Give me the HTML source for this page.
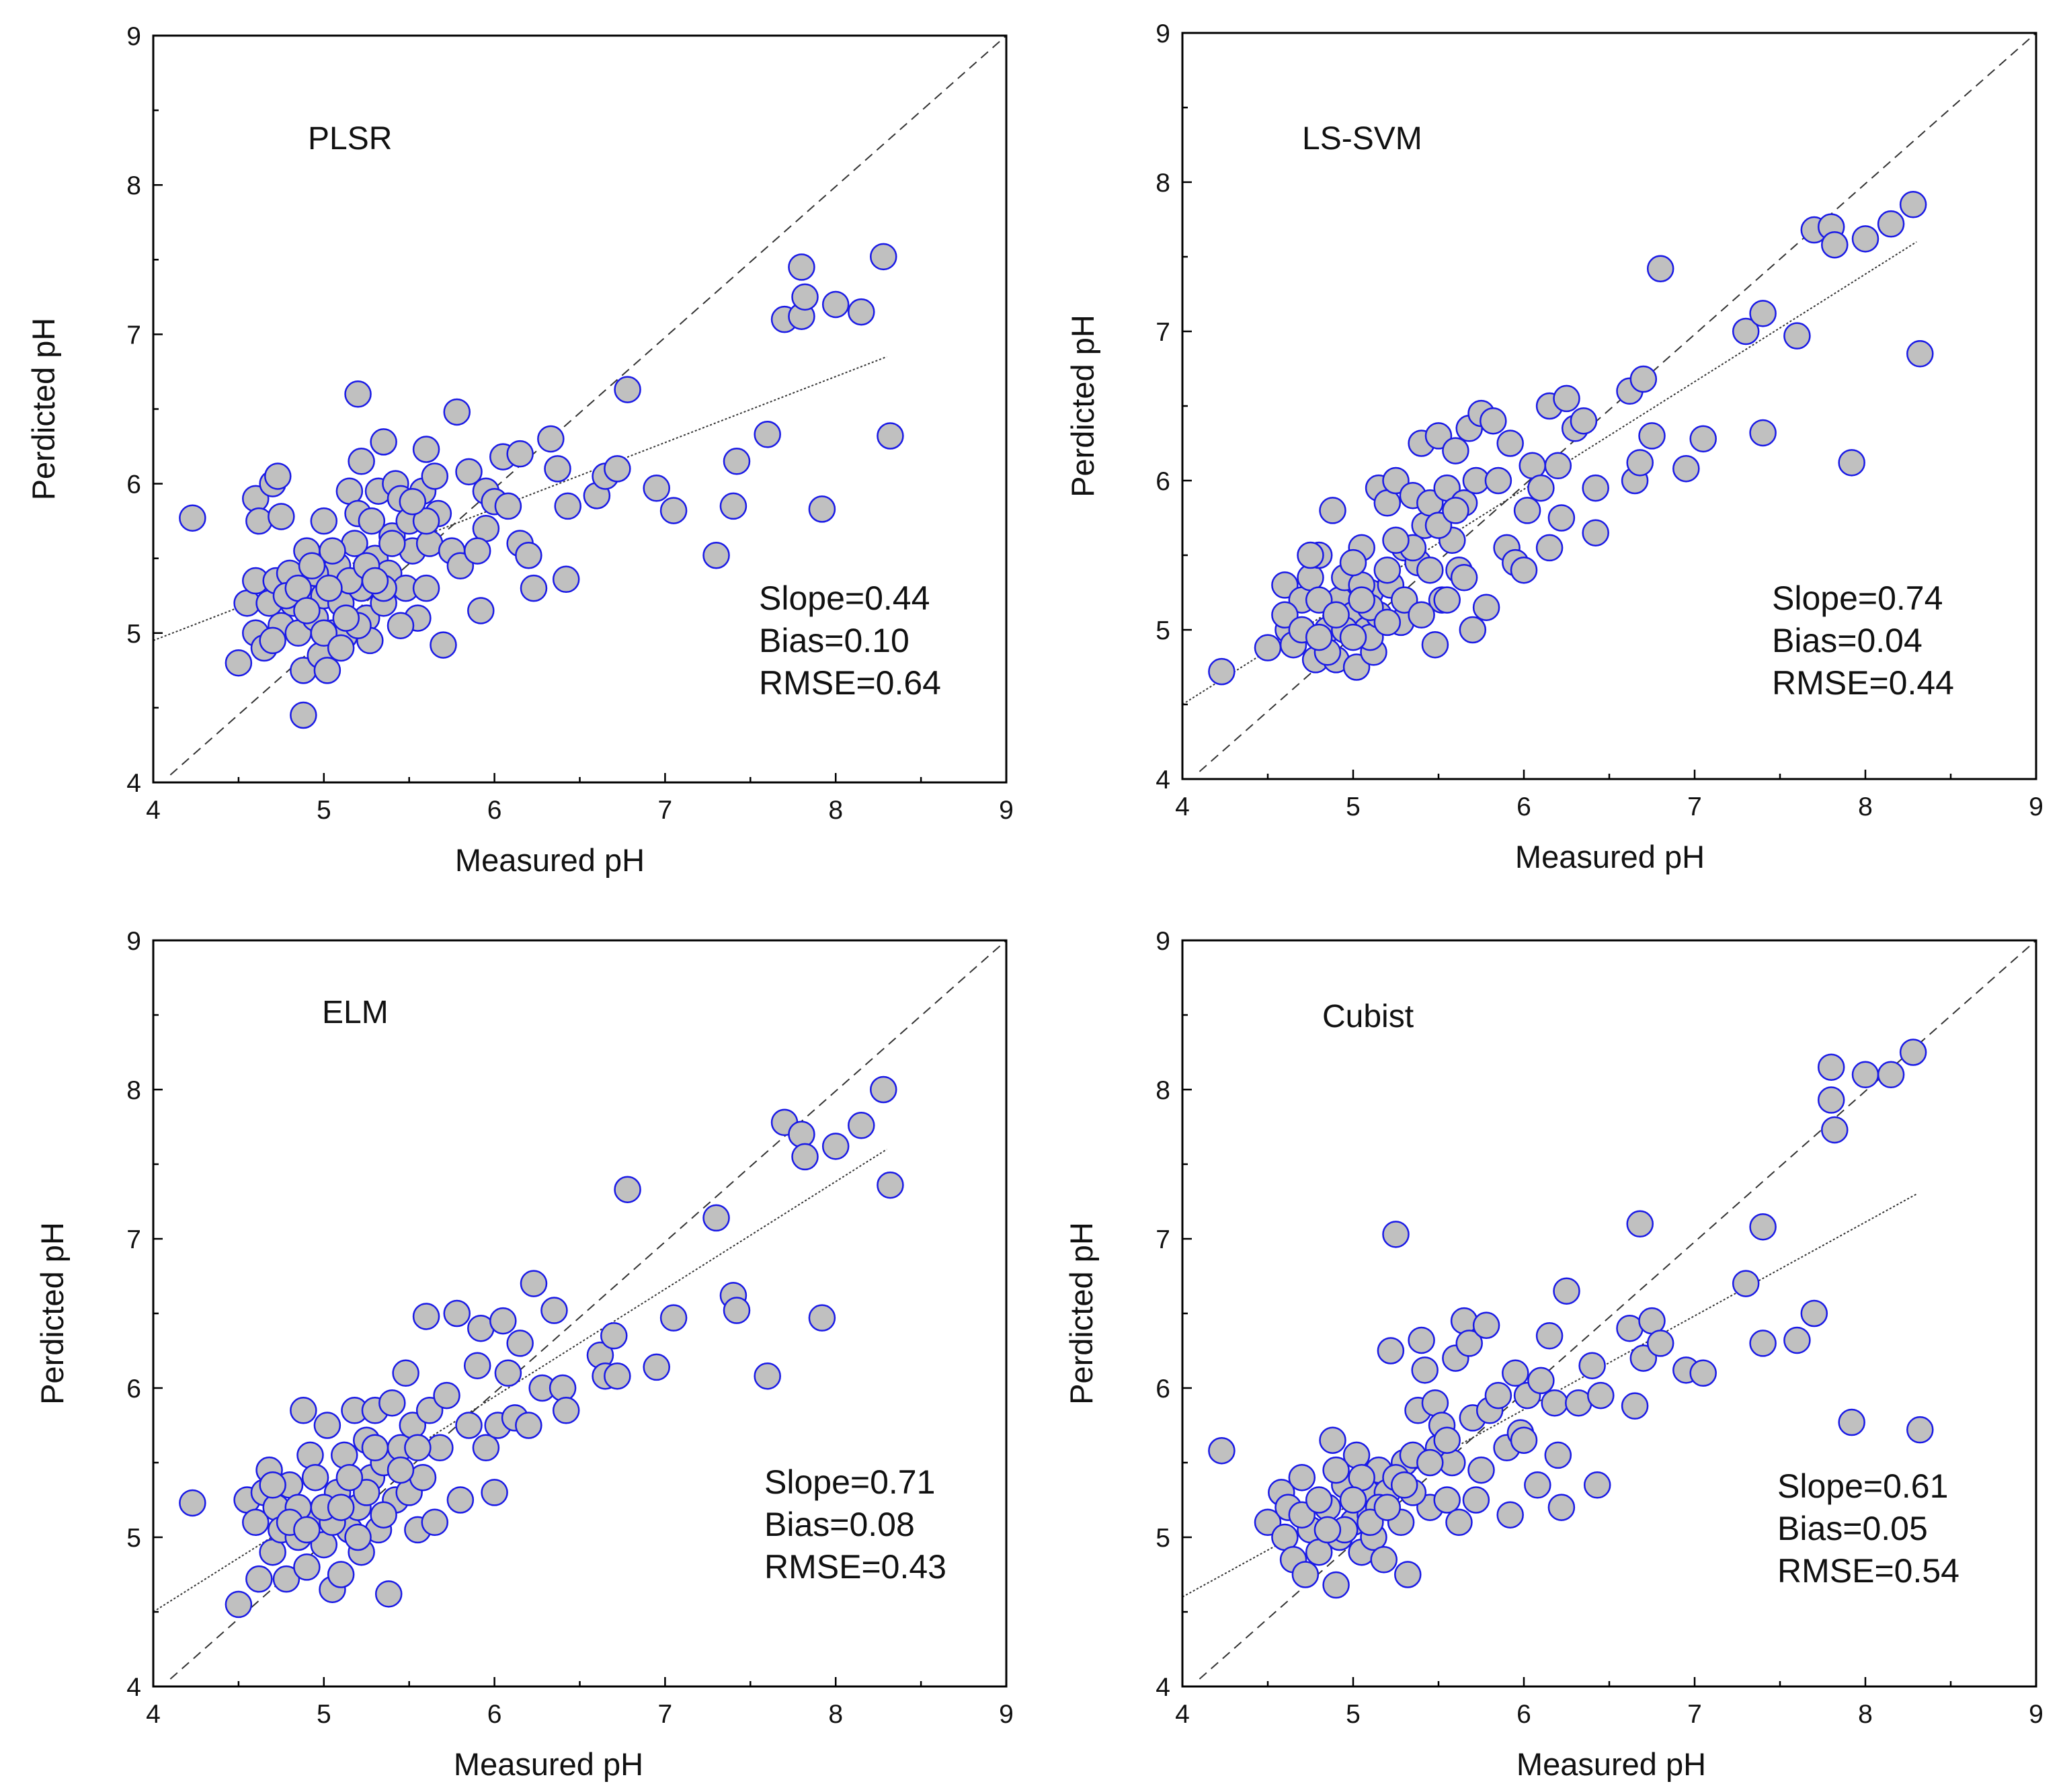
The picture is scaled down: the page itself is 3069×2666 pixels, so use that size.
<!DOCTYPE html>
<html><head><meta charset="utf-8"><style>
body{margin:0;background:#fff}
svg{display:block;font-family:"Liberation Sans",sans-serif}
</style></head><body>
<svg id="fig" width="3069" height="2666" viewBox="0 0 3069 2666"></svg>
<script>
const plsrX=[4.23,4.5,4.6,4.62,4.7,4.73,4.75,4.88,5.0,5.2,5.22,5.35,5.6,5.78,5.7,5.92,5.95,6.05,6.15,6.15,6.2,6.23,6.33,6.37,6.42,6.43,6.6,6.65,6.72,6.78,6.95,7.05,7.3,7.4,7.42,7.6,7.7,7.8,7.8,7.82,7.92,8.0,8.15,8.28,8.32,4.55,4.6,4.6,4.65,4.68,4.72,4.75,4.8,4.82,4.85,4.88,4.9,4.92,4.95,4.98,5.0,5.02,5.05,5.08,5.1,5.12,5.15,5.18,5.2,5.22,5.25,5.27,5.3,5.32,5.35,5.38,5.4,5.42,5.45,5.48,5.5,5.52,5.55,5.58,5.6,5.62,5.65,5.67,5.75,5.8,5.85,5.9,5.95,6.0,6.08,5.4,5.28,5.05,4.95,5.15,5.45,5.35,4.78,4.7,5.6,5.52,5.25,4.85,4.9,5.0,5.1,5.2,5.3,5.13,5.03,4.93];
const plsrY=[5.77,4.8,5.9,5.75,6.0,6.05,5.78,4.45,5.75,6.6,6.15,6.28,6.23,6.48,4.92,5.15,5.7,6.18,6.2,5.6,5.52,5.3,6.3,6.1,5.36,5.85,5.92,6.05,6.1,6.63,5.97,5.82,5.52,5.85,6.15,6.33,7.1,7.45,7.12,7.25,5.83,7.2,7.15,7.52,6.32,5.2,5.35,5.0,4.9,5.2,5.35,5.05,5.4,5.2,5.0,4.75,5.55,5.3,5.1,4.85,5.25,4.75,5.0,5.45,5.2,4.98,5.95,5.6,5.8,5.3,5.1,4.95,5.5,5.95,5.2,5.4,5.65,6.0,5.9,5.3,5.75,5.55,5.1,5.95,5.3,5.6,6.05,5.8,5.55,5.45,6.08,5.55,5.95,5.88,5.85,5.6,5.75,5.55,5.4,5.35,5.05,5.3,5.25,4.95,5.75,5.88,5.45,5.3,5.15,5.0,4.9,5.05,5.35,5.1,5.3,5.45];
const svmX=[4.23,4.5,4.6,4.62,4.65,4.7,4.75,4.78,4.8,4.85,4.88,4.9,4.92,4.95,5.0,5.02,5.05,5.08,5.1,5.12,5.15,5.2,5.22,5.25,5.28,5.3,5.35,5.38,5.4,5.42,5.45,5.48,5.5,5.52,5.55,5.58,5.6,5.62,5.65,5.68,5.7,5.72,5.75,5.78,5.82,5.85,5.9,5.92,5.95,6.0,6.02,6.05,6.1,6.15,6.15,6.2,6.22,6.25,6.3,6.35,6.42,6.42,6.62,6.65,6.68,6.7,6.75,6.8,6.95,7.05,7.3,7.4,7.4,7.6,7.7,7.8,7.82,7.92,8.0,8.15,8.28,8.32,4.6,4.7,4.8,4.85,4.95,5.05,5.1,5.15,5.2,5.3,5.35,5.45,5.5,5.55,5.65,5.6,5.4,5.0,4.75,5.25,4.9,5.0,5.1,5.2,4.8,5.05];
const svmY=[4.72,4.88,5.3,5.0,4.9,5.2,5.35,4.8,5.5,5.0,5.8,4.8,5.2,5.35,5.1,4.75,5.55,5.0,5.25,4.85,5.95,5.85,5.3,6.0,5.05,5.55,5.9,5.45,6.25,5.7,5.85,4.9,6.3,5.2,5.95,5.6,6.2,5.4,5.85,6.35,5.0,6.0,6.45,5.15,6.4,6.0,5.55,6.25,5.45,5.4,5.8,6.1,5.95,6.5,5.55,6.1,5.75,6.55,6.35,6.4,5.65,5.95,6.6,6.0,6.12,6.68,6.3,7.42,6.08,6.28,7.0,7.12,6.32,6.97,7.68,7.7,7.58,6.12,7.62,7.72,7.85,6.85,5.1,5.0,5.2,4.85,5.0,5.3,4.95,5.1,5.4,5.2,5.55,5.4,5.7,5.2,5.35,5.8,5.1,5.45,5.5,5.6,5.1,4.95,5.15,5.05,4.95,5.2];
const elmX=[4.23,4.5,4.55,4.6,4.62,4.65,4.68,4.7,4.72,4.75,4.78,4.8,4.85,4.88,4.9,4.92,4.95,5.0,5.02,5.05,5.08,5.1,5.12,5.15,5.18,5.2,5.22,5.25,5.28,5.3,5.32,5.35,5.38,5.4,5.42,5.45,5.48,5.5,5.52,5.55,5.58,5.6,5.62,5.65,5.68,5.72,5.78,5.8,5.85,5.9,5.92,5.95,6.0,6.02,6.05,6.08,6.12,6.15,6.2,6.23,6.28,6.35,6.4,6.42,6.62,6.65,6.7,6.72,6.78,6.95,7.05,7.3,7.4,7.42,7.6,7.7,7.8,7.82,7.92,8.0,8.15,8.28,8.32,4.7,4.85,4.95,5.05,5.25,5.35,5.45,5.55,5.15,5.0,4.8,4.9,5.1,5.2,5.3];
const elmY=[5.23,4.55,5.25,5.1,4.72,5.3,5.45,4.9,5.2,5.05,4.72,5.35,5.0,5.85,4.8,5.55,5.15,4.95,5.75,4.65,5.3,4.75,5.55,5.05,5.85,5.2,4.9,5.65,5.4,5.85,5.05,5.5,4.62,5.9,5.25,5.6,6.1,5.3,5.75,5.05,5.4,6.48,5.85,5.1,5.6,5.95,6.5,5.25,5.75,6.15,6.4,5.6,5.3,5.75,6.45,6.1,5.8,6.3,5.75,6.7,6.0,6.52,6.0,5.85,6.22,6.08,6.35,6.08,7.33,6.14,6.47,7.14,6.62,6.52,6.08,7.78,7.7,7.55,6.47,7.62,7.76,8.0,7.36,5.35,5.2,5.4,5.1,5.3,5.15,5.45,5.6,5.4,5.2,5.1,5.05,5.2,5.0,5.6];
const cubX=[4.23,4.5,4.58,4.6,4.62,4.65,4.7,4.72,4.75,4.8,4.85,4.88,4.9,4.92,4.95,5.0,5.02,5.05,5.08,5.1,5.12,5.15,5.18,5.2,5.22,5.25,5.28,5.3,5.32,5.35,5.38,5.4,5.42,5.45,5.48,5.5,5.52,5.55,5.58,5.6,5.62,5.65,5.68,5.7,5.72,5.75,5.78,5.8,5.85,5.9,5.92,5.95,5.98,6.0,6.02,6.08,6.1,6.15,6.18,6.2,6.22,6.25,6.32,6.4,6.43,6.45,6.62,6.65,6.68,6.7,6.75,6.8,6.95,7.05,7.3,7.4,7.4,7.6,7.7,7.8,7.8,7.82,7.92,8.0,8.15,8.28,8.32,4.7,4.8,4.95,5.05,5.15,5.25,5.35,5.45,5.55,4.9,4.85,5.0,5.1,5.2,5.3];
const cubY=[5.58,5.1,5.3,5.0,5.2,4.85,5.4,4.75,5.05,4.9,5.2,5.65,4.68,5.0,5.35,5.1,5.55,4.9,5.3,5.15,5.0,5.45,4.85,5.3,6.25,7.03,5.1,5.5,4.75,5.55,5.85,6.32,6.12,5.2,5.9,5.6,5.75,5.25,5.5,6.2,5.1,6.45,6.3,5.8,5.25,5.45,6.42,5.85,5.95,5.6,5.15,6.1,5.7,5.65,5.95,5.35,6.05,6.35,5.9,5.55,5.2,6.65,5.9,6.15,5.35,5.95,6.4,5.88,7.1,6.2,6.45,6.3,6.12,6.1,6.7,7.08,6.3,6.32,6.5,8.15,7.93,7.73,5.77,8.1,8.1,8.25,5.72,5.15,5.25,5.05,5.4,5.2,5.4,5.3,5.5,5.65,5.45,5.05,5.25,5.1,5.2,5.35];
const axisTicks=[4,5,6,7,8,9];
const fitLines=[[4.95,6.85],[4.5,7.6],[4.5,7.6],[4.6,7.3]];
const panelNames=["PLSR","LS-SVM","ELM","Cubist"];
const slopes=["0.44","0.74","0.71","0.61"],biases=["0.10","0.04","0.08","0.05"],rmses=["0.64","0.44","0.43","0.54"];
const NS="http://www.w3.org/2000/svg";
const svg=document.getElementById('fig');
function mk(tag,attrs,parent){const e=document.createElementNS(NS,tag);for(const k in attrs)e.setAttribute(k,attrs[k]);(parent||svg).appendChild(e);return e;}
const panels=[
 {x0:228,x1:1497,y0:53,y1:1164,xs:plsrX,ys:plsrY,yl:65,xc:818,lab:[458,222],st:[1129,890]},
 {x0:1759,x1:3029,y0:49,y1:1159,xs:svmX,ys:svmY,yl:1611,xc:2395,lab:[1937,222],st:[2636,890]},
 {x0:228,x1:1497,y0:1399,y1:2509,xs:elmX,ys:elmY,yl:78,xc:816,lab:[479,1522],st:[1137,2205]},
 {x0:1759,x1:3029,y0:1399,y1:2509,xs:cubX,ys:cubY,yl:1609,xc:2397,lab:[1967,1528],st:[2644,2211]}];
panels.forEach((p,i)=>{
 const g=mk('g',{});
 
 
 const sx=v=>p.x0+(v-4)/5*(p.x1-p.x0), sy=v=>p.y1-(v-4)/5*(p.y1-p.y0);
 for(let v=4;v<=9;v+=0.5){
  const L=Number.isInteger(v)?14:8;
  mk('line',{x1:sx(v),x2:sx(v),y1:p.y1,y2:p.y1-L,stroke:'#000','stroke-width':2.5},g);
  mk('line',{x1:p.x0,x2:p.x0+L,y1:sy(v),y2:sy(v),stroke:'#000','stroke-width':2.5},g);
 }
 axisTicks.forEach(v=>{
  const t=mk('text',{x:sx(v),y:p.y1+54,'text-anchor':'middle','font-size':39,fill:'#111'},g);t.textContent=v;
  
  
  const u=mk('text',{x:p.x0-18,y:sy(v)+14,'text-anchor':'end','font-size':39,fill:'#111'},g);u.textContent=v;
  
  
 });
 const d=mk('line',{x1:sx(4.1),y1:sy(4.05),x2:sx(9),y2:sy(9),stroke:'#333','stroke-width':2,'stroke-dasharray':'14,9'},g);
 
 
 const f=mk('line',{x1:sx(4),y1:sy(fitLines[i][0]),x2:sx(8.3),y2:sy(fitLines[i][1]),stroke:'#333','stroke-width':2,'stroke-dasharray':'3,3'},g);
 
 
 p.xs.forEach((xv,j)=>{
  const c=mk('circle',{cx:sx(xv),cy:sy(p.ys[j]),r:19,fill:'#c0c0c0',stroke:'#1a1ae6','stroke-width':2.5},g);
  
  
 });
 const fr=mk('rect',{x:p.x0,y:p.y0,width:p.x1-p.x0,height:p.y1-p.y0,fill:'none',stroke:'#000','stroke-width':3},g);
 
 
 const xt=mk('text',{x:p.xc,y:p.y1+132,'text-anchor':'middle','font-size':47,fill:'#111'},g);xt.textContent='Measured pH';
 
 
 const yc=(p.y0+p.y1)/2;
 const yt=mk('text',{x:p.yl,y:yc,'text-anchor':'middle','font-size':47,fill:'#111',transform:`rotate(-90 ${p.yl} ${yc}) translate(0 16)`},g);yt.textContent='Perdicted pH';
 
 
 const pl=mk('text',{x:p.lab[0],y:p.lab[1],'font-size':48,fill:'#111'},g);pl.textContent=panelNames[i];
 
 
 [['Slope=',slopes[i]],['Bias=',biases[i]],['RMSE=',rmses[i]]].forEach((s,k)=>{
  const t=mk('text',{x:p.st[0],y:p.st[1]+17+k*63,'font-size':50,fill:'#111'},g);t.textContent=s[0]+s[1];
  
  
 });
});
</script>
</body></html>
